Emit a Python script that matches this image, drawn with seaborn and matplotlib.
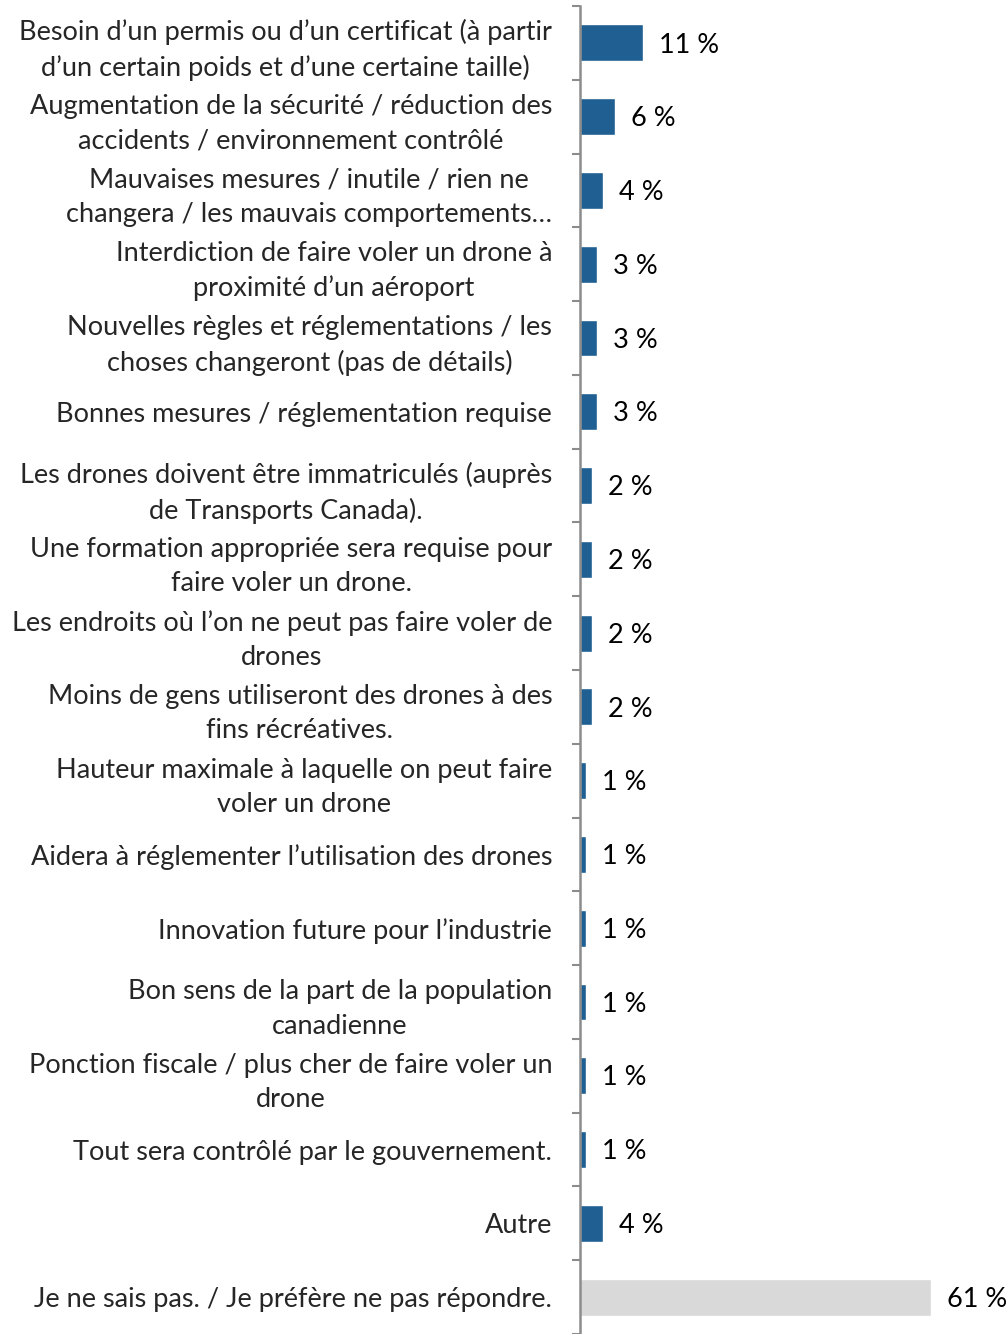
import numpy as np
import matplotlib
matplotlib.use("Agg")
import matplotlib.pyplot as plt
import seaborn as sns

# data
categories = [
    "Besoin d\u2019un permis ou d\u2019un certificat (\u00e0 partir\nd\u2019un certain poids et d\u2019une certaine taille)",
    "Augmentation de la s\u00e9curit\u00e9 / r\u00e9duction des\naccidents / environnement contr\u00f4l\u00e9",
    "Mauvaises mesures / inutile / rien ne\nchangera / les mauvais comportements\u2026",
    "Interdiction de faire voler un drone \u00e0\nproximit\u00e9 d\u2019un a\u00e9roport",
    "Nouvelles r\u00e8gles et r\u00e9glementations / les\nchoses changeront (pas de d\u00e9tails)",
    "Bonnes mesures / r\u00e9glementation requise",
    "Les drones doivent \u00eatre immatricul\u00e9s (aupr\u00e8s\nde Transports Canada).",
    "Une formation appropri\u00e9e sera requise pour\nfaire voler un drone.",
    "Les endroits o\u00f9 l\u2019on ne peut pas faire voler de\ndrones",
    "Moins de gens utiliseront des drones \u00e0 des\nfins r\u00e9cr\u00e9atives.",
    "Hauteur maximale \u00e0 laquelle on peut faire\nvoler un drone",
    "Aidera \u00e0 r\u00e9glementer l\u2019utilisation des drones",
    "Innovation future pour l\u2019industrie",
    "Bon sens de la part de la population\ncanadienne",
    "Ponction fiscale / plus cher de faire voler un\ndrone",
    "Tout sera contr\u00f4l\u00e9 par le gouvernement.",
    "Autre",
    "Je ne sais pas. / Je pr\u00e9f\u00e8re ne pas r\u00e9pondre.",
]
values = [11, 6, 4, 3, 3, 3, 2, 2, 2, 2, 1, 1, 1, 1, 1, 1, 4, 61]
value_labels = [f"{v} %" for v in values]

blue = "#1F5F91"
grey = "#D9D9D9"
colors = [blue] * (len(values) - 1) + [grey]

sns.set_style("white")
plt.rcParams["font.family"] = ["Lato", "DejaVu Sans"]
fs = 19.5

fig = plt.figure(figsize=(10.07, 13.34), dpi=100)
left = 580 / 1007
ax = fig.add_axes([left, 0, 1 - left, (1334 - 6) / 1334])

sns.barplot(x=values, y=categories, hue=categories, palette=colors,
            legend=False, width=0.5, orient="h", ax=ax, saturation=1)

ax.set_xlim(0, (1007 - 580) / 5.75)
ax.set_ylim(len(values) - 0.5, -0.5)

for i, v in enumerate(values):
    ax.text(v + 2.8, i + 0.03, value_labels[i], va="center", ha="left",
            fontsize=fs, color="black")

ax.set_yticks(range(len(categories)))
ax.set_yticklabels(categories, fontsize=fs, multialignment="center",
                   linespacing=1.45)
ax.tick_params(axis="y", which="major", length=0, pad=20)
ax.set_yticks(np.arange(-0.5, len(values), 1), minor=True)
ax.tick_params(axis="y", which="minor", length=6, width=1.5, color="#8C8C8C", left=True)
ax.set_xticks([])
ax.set_xlabel("")
ax.set_ylabel("")

for s in ["top", "right", "bottom"]:
    ax.spines[s].set_visible(False)
ax.spines["left"].set_color("#8C8C8C")
ax.spines["left"].set_linewidth(1.8)

fig.savefig("out.png", dpi=100)
